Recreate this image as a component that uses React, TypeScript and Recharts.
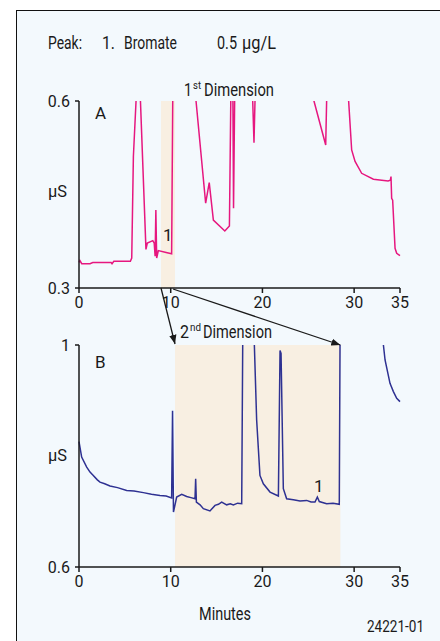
import { LineChart, Line, XAxis, YAxis, ReferenceArea } from "recharts";

const FONT = "Roboto, 'Liberation Sans', sans-serif";
const PINK = "#e6177f";
const NAVY = "#2e3192";
const BAND = "#f8efe2";
const INK = "#1a1a1a";

// 1st dimension trace (minutes / µS); values above 0.6 run off the top of the plot
const minutesA = [
  0, 0.1, 0.3, 1.2, 1.5, 3.5, 3.6, 3.8, 5.6, 5.75, 5.93, 6.22, 6.4, 6.7, 7.3, 7.45, 8.05, 8.2, 8.3, 8.38,
  8.47, 8.65, 9.5, 10.1, 10.22, 11, 12.76, 13.81, 14.2, 14.65, 15.9, 16.4, 16.55, 16.7, 16.85,
  16.97, 17.5, 18.94, 19.08, 19.19, 22, 25.62, 26.9, 27.0, 28, 29.4, 29.73, 30.1, 30.82, 32.1,
  33.7, 33.95, 34.02, 34.09, 34.2, 34.46, 34.64, 35,
];
const valuesA = [
  0.341, 0.344, 0.339, 0.339, 0.341, 0.341, 0.339, 0.343, 0.343, 0.348, 0.511, 0.6, 0.9, 0.6, 0.362, 0.372, 0.376,
  0.372, 0.351, 0.425, 0.348, 0.36, 0.357, 0.355, 0.6, 0.9, 0.6, 0.436, 0.469, 0.409, 0.3915,
  0.3995, 0.6, 0.8, 0.428, 0.6, 0.9, 0.6, 0.533, 0.6, 0.9, 0.6, 0.5295, 0.6, 0.9, 0.6, 0.5215,
  0.503, 0.484, 0.4744, 0.4717, 0.473, 0.4787, 0.444, 0.441, 0.3637, 0.3556, 0.352,
];

// 2nd dimension trace; values above 1 run off the top
const minutesB = [
  0, 0.29, 0.84, 1.2, 1.56, 2.0, 2.29, 2.8, 3.38, 4.2, 5.2, 6.0, 7.02, 7.9, 8.83, 9.5, 10.1, 10.2,
  10.3, 10.65, 11.2, 11.74, 12.2, 12.65, 12.72, 12.8, 13.2, 13.56, 14.28, 14.83, 15.2, 15.56, 16.1,
  16.5, 16.83, 17.3, 17.74, 17.85, 18.2, 19.12, 19.37, 19.73, 20.1, 20.83, 21.74, 21.92, 22.03,
  22.28, 22.64, 23.37, 24.1, 24.82, 25.3, 25.73, 25.99, 26.2, 27.0, 27.7, 28.38, 28.46, 30, 33.19,
  33.37, 33.91, 34.28, 34.64, 35,
];
const valuesB = [
  0.826, 0.798, 0.78, 0.771, 0.765, 0.757, 0.753, 0.750, 0.746, 0.743, 0.738, 0.737, 0.734, 0.731,
  0.729, 0.728, 0.7245, 0.8815, 0.699, 0.726, 0.731, 0.727, 0.725, 0.723, 0.759, 0.717, 0.712, 0.705,
  0.701, 0.711, 0.713, 0.717, 0.712, 0.714, 0.712, 0.715, 0.714, 1.0, 1.3, 1.0, 0.865, 0.765, 0.75,
  0.735, 0.728, 0.99, 0.985, 0.741, 0.723, 0.721, 0.719, 0.72, 0.717, 0.717, 0.726, 0.718, 0.714,
  0.715, 0.713, 1.0, 1.5, 1.0, 0.973, 0.931, 0.916, 0.904, 0.898,
];

const xTicks = [0, 10, 20, 30, 35];
const yTicksA = [0.3, 0.6];
const yTicksB = [0.6, 1];
const cutA = [8.94, 10.47];
const cutB = [10.47, 28.5];

const dataA = minutesA.map((m, i) => ({ m, v: valuesA[i] }));
const dataB = minutesB.map((m, i) => ({ m, v: valuesB[i] }));

// layout
const W = 440;
const PLOT_LEFT = 79;
const PLOT_W = 321;
const A_BOTTOM = 288;
const B_TOP = 345;
const xPx = (min: number) => PLOT_LEFT + (min / 35) * PLOT_W;

const tickStyle = { fill: INK, fontSize: 16, fontFamily: FONT };
const axisLine = { stroke: INK, strokeWidth: 1.5 };

function Panel({
  data,
  color,
  domain,
  yTicks,
  band,
  height,
  top,
}: {
  data: { m: number; v: number }[];
  color: string;
  domain: [number, number];
  yTicks: number[];
  band: number[];
  height: number;
  top: number;
}) {
  return (
    <LineChart width={W} height={height} data={data} margin={{ top, right: W - PLOT_LEFT - PLOT_W, bottom: 0, left: 0 }}>
      <ReferenceArea x1={band[0]} x2={band[1]} y1={domain[0]} y2={domain[1]} fill={BAND} fillOpacity={1} stroke="none" />
      <XAxis
        dataKey="m"
        type="number"
        domain={[0, 35]}
        ticks={xTicks}
        height={30}
        tickSize={5}
        tickMargin={4}
        axisLine={axisLine}
        tickLine={axisLine}
        tick={tickStyle}
        interval={0}
      />
      <YAxis
        type="number"
        domain={domain}
        ticks={yTicks}
        allowDataOverflow
        width={PLOT_LEFT}
        tickSize={4}
        tickMargin={5}
        axisLine={axisLine}
        tickLine={axisLine}
        tick={tickStyle}
        tickFormatter={(v: number) => String(v)}
        interval={0}
      />
      <Line dataKey="v" type="linear" stroke={color} strokeWidth={1.5} dot={false} isAnimationActive={false} />
    </LineChart>
  );
}

function T({ x, y, w, size = 16, children, anchor }: { x: number; y: number; w?: number; size?: number; children: string; anchor?: "middle" | "end" }) {
  return (
    <text
      x={x}
      y={y}
      fontSize={size}
      fontFamily={FONT}
      fill={INK}
      textAnchor={anchor}
      textLength={w}
      lengthAdjust={w ? "spacingAndGlyphs" : undefined}
    >
      {children}
    </text>
  );
}

export default function App() {
  return (
    <div style={{ position: "absolute", left: 0, top: 0, width: W, height: 641, background: "#fff", overflow: "hidden" }}>
      <div
        style={{
          position: "absolute",
          left: 16,
          top: 10,
          width: 440,
          height: 640,
          border: "1.5px solid #111",
          background: "#f3f9fd",
          boxSizing: "border-box",
        }}
      />
      <div style={{ position: "absolute", left: 0, top: 80 }}>
        <Panel data={dataA} color={PINK} domain={[0.3, 0.6]} yTicks={yTicksA} band={cutA} height={238} top={101 - 80} />
      </div>
      <div style={{ position: "absolute", left: 0, top: 330 }}>
        <Panel data={dataB} color={NAVY} domain={[0.6, 1]} yTicks={yTicksB} band={cutB} height={267} top={B_TOP - 330} />
      </div>
      <svg width={W} height={641} style={{ position: "absolute", left: 0, top: 0, pointerEvents: "none" }}>
        <defs>
          <marker id="head" viewBox="0 0 10 10" refX="10" refY="5" markerWidth="7" markerHeight="7" orient="auto-start-reverse">
            <path d="M0,1 L10,5 L0,9 z" fill={INK} />
          </marker>
        </defs>
        <T x={48} y={49} w={34} size={18}>Peak:</T>
        <T x={102} y={49} w={13} size={18}>1.</T>
        <T x={124} y={49} w={53} size={18}>Bromate</T>
        <T x={217} y={49} w={20} size={18}>0.5</T>
        <T x={242} y={49} w={34} size={18}>µg/L</T>

        <T x={184} y={96} w={8} size={18}>1</T>
        <T x={193} y={89} w={8} size={10}>st</T>
        <T x={204} y={96} w={70} size={18}>Dimension</T>
        <T x={180} y={338} w={9} size={18}>2</T>
        <T x={190} y={331} w={11} size={10}>nd</T>
        <T x={203} y={338} w={69} size={18}>Dimension</T>

        <T x={95} y={119} size={17}>A</T>
        <T x={95} y={368} size={17}>B</T>
        <T x={48} y={197} w={19} size={17}>µS</T>
        <T x={48} y={461} w={19} size={17}>µS</T>
        <T x={163} y={241} size={17}>1</T>
        <T x={314} y={492} size={17}>1</T>
        <T x={199} y={620} w={52} size={18}>Minutes</T>
        <T x={367} y={632} w={57} size={16}>24221-01</T>

        <line x1={xPx(cutA[0])} y1={A_BOTTOM} x2={xPx(cutB[0])} y2={B_TOP - 1} stroke={INK} strokeWidth={1.3} markerEnd="url(#head)" />
        <line x1={xPx(cutA[1]) - 2} y1={A_BOTTOM + 1} x2={xPx(cutB[1])} y2={B_TOP} stroke={INK} strokeWidth={1.3} markerEnd="url(#head)" />
      </svg>
    </div>
  );
}
